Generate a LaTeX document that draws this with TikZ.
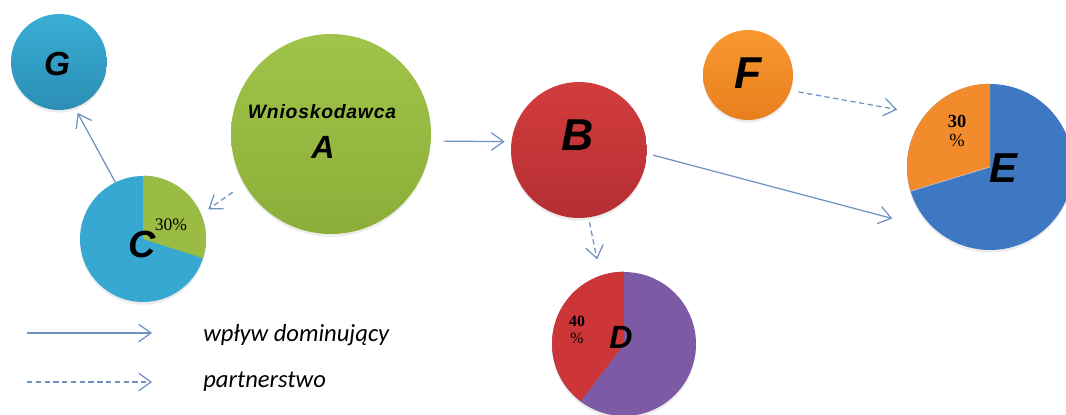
\documentclass[tikz,border=0pt]{standalone}
\usepackage{fontspec}
\setmainfont{Liberation Sans}
\newfontfamily\tnr{Liberation Serif}
\newfontfamily\calib{Carlito}
\usetikzlibrary{arrows.meta,shadows}
\definecolor{gTop}{HTML}{3AAED6}
\definecolor{gBot}{HTML}{2B8EB4}
\definecolor{cBlue}{HTML}{36A8D2}
\definecolor{cGreen}{HTML}{9ABB44}
\definecolor{aTop}{HTML}{A0C44A}
\definecolor{aBot}{HTML}{8CAE38}
\definecolor{bTop}{HTML}{D23C3D}
\definecolor{bBot}{HTML}{B52E33}
\definecolor{fTop}{HTML}{F8982F}
\definecolor{fBot}{HTML}{E87F1E}
\definecolor{eBlue}{HTML}{3E78C2}
\definecolor{eOrange}{HTML}{F28B2C}
\definecolor{dRed}{HTML}{CC3638}
\definecolor{dPurple}{HTML}{7D5AA6}
\definecolor{arrowc}{HTML}{6E91C2}
\begin{document}
\begin{tikzpicture}[x=0.02cm,y=-0.02cm,
  ball/.style={circle, inner sep=0pt, minimum size=#1,
    drop shadow={shadow xshift=0pt, shadow yshift=-1.5pt, opacity=0.15}},
  ltr/.style={inner sep=0pt, font=\bfseries\itshape\fontsize{#1}{#1}\selectfont},
  pct/.style={inner sep=0pt, align=center, font=\tnr\fontsize{#1}{#1}\selectfont},
  conn/.style={draw=arrowc, line width=0.7pt, -{Straight Barb[length=7pt,width=10pt]}},
  dom/.style={conn},
  part/.style={conn, dash pattern=on 3pt off 2pt},
  legtext/.style={anchor=west, inner sep=0pt, font=\calib\itshape\fontsize{14}{14}\selectfont},
]
\useasboundingbox (0,0) rectangle (1066,414);
\fill[white] (0,0) rectangle (1066,414);

% circles
\node[ball=1.92cm, top color=gTop, bottom color=gBot] (G) at (59,62) {};
\node[ball=4cm, top color=aTop, bottom color=aBot] (A) at (331,134) {};
\node[ball=2.52cm, fill=cBlue] (C) at (143,239) {};
\node[ball=2.72cm, top color=bTop, bottom color=bBot] (B) at (579,150) {};
\node[ball=1.8cm, top color=fTop, bottom color=fBot] (F) at (748,75) {};
\node[ball=3.32cm, fill=eBlue] (E) at (990,167) {};
\node[ball=2.88cm, fill=dPurple] (D) at (624,344) {};

% pie slices
\fill[cGreen] (C.center) -- (C.90) arc[start angle=90, end angle=-18, radius=1.26cm] -- cycle;
\fill[eOrange] (E.center) -- (E.90) arc[start angle=90, end angle=197, radius=1.66cm] -- cycle;
\draw[white, opacity=0.5, line width=0.4pt] (E.197) -- (E.center);
\fill[dRed] (D.center) -- (D.90) arc[start angle=90, end angle=233, radius=1.44cm] -- cycle;

% labels
\node[ltr=19] (Gl) at (57,64) {G};
\node[inner sep=0pt, font=\bfseries\itshape\fontsize{11}{11}\selectfont\addfontfeatures{LetterSpace=4}] (Aw) at (322,112) {Wnioskodawca};
\node[ltr=18.3] (Al) at (323,147) {A};
\node[ltr=21.5] (Cl) at (142,244) {C};
\node[pct=10] (Cp) at (171,225) {30\%};
\node[ltr=25.4] (Bl) at (578,135) {B};
\node[ltr=25.4] (Fl) at (748,73) {F};
\node[ltr=23.8] (El) at (1003,168) {E};
\node[pct=10.5, font=\tnr\bfseries\fontsize{10.5}{12}\selectfont] (Ep) at (957,131) {30\\[-1pt]{\mdseries\%}};
\node[ltr=18.3] (Dl) at (621,337) {D};
\node[pct=9, font=\tnr\bfseries\fontsize{9}{11}\selectfont] (Dp) at (577,330) {40\\[-1pt]{\mdseries\%}};

% connectors
\draw[dom, shorten <=0.25cm, shorten >=0.13cm] (A.-4.6) -- (B.173.2);
\draw[dom, shorten <=0.12cm, shorten >=0.89cm] (B.-3) -- (E.229);
\draw[dom, shorten >=0.12cm] (C.116.6) -- (G.-71.7);
\draw[part, shorten <=0.28cm, shorten >=0.17cm] (A.210.1) -- (C.23.5);
\draw[part, shorten <=0.16cm, shorten >=0.57cm] (F.-20.3) -- (E.141.3);
\draw[part, shorten <=0.09cm, shorten >=0.33cm] (B.-82.4) -- (D.109.1);

% legend
\coordinate (s1) at (27,333);
\coordinate (s2) at (152,333);
\coordinate (d1) at (27,382);
\coordinate (d2) at (152,382);
\draw[dom] (s1) -- (s2);
\draw[part] (d1) -- (d2);
\node[legtext] (t1) at (203,335) {wpływ dominujący};
\node[legtext] (t2) at (203,382) {partnerstwo};
\end{tikzpicture}
\end{document}
